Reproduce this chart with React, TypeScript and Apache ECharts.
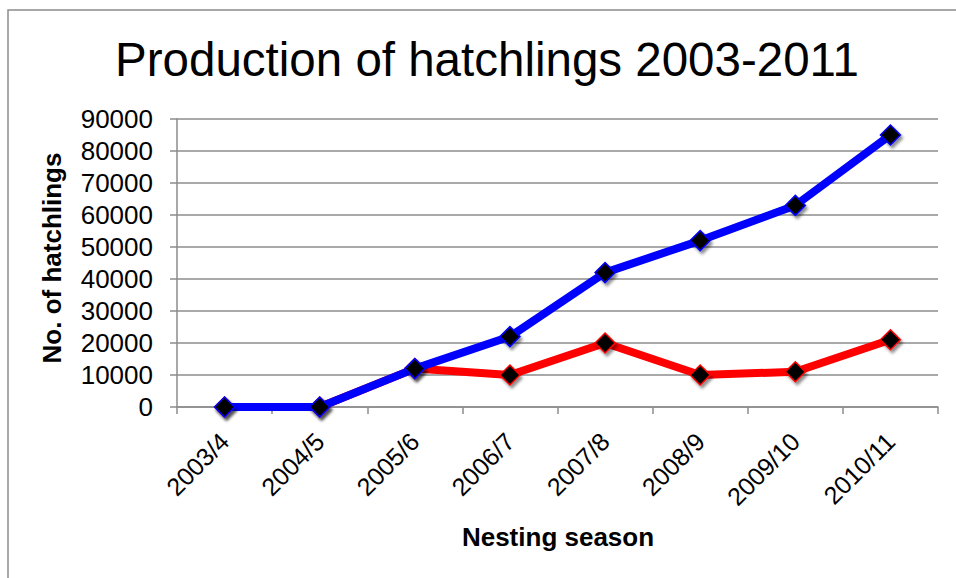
import React, { useEffect, useRef } from "react";
import * as echarts from "echarts";

const seasons = ["2003/4", "2004/5", "2005/6", "2006/7", "2007/8", "2008/9", "2009/10", "2010/11"];
const blueSeries = [0, 0, 12000, 22000, 42000, 52000, 63000, 85000];
const redSeries = [0, 0, 12000, 10000, 20000, 10000, 11000, 21000];
const yTicks = { min: 0, max: 90000, interval: 10000 };

const titleText = "Production of hatchlings 2003-2011";
const xName = "Nesting season";
const yName = "No. of hatchlings";

const FONT = "'Liberation Sans', Arial, Helvetica, sans-serif";
const GRAY = "#8c8c8c";

export default function App() {
  const ref = useRef<HTMLDivElement>(null);

  useEffect(() => {
    if (!ref.current) return;
    const chart = echarts.init(ref.current, undefined, { renderer: "svg" });
    const markerStyle = (border: string) => ({
      color: "#000000",
      borderColor: border,
      borderWidth: 1.5,
      shadowBlur: 3,
      shadowColor: "rgba(0,0,0,0.45)",
      shadowOffsetX: 2,
      shadowOffsetY: 3,
    });
    chart.setOption({
      animation: false,
      backgroundColor: "#ffffff",
      grid: { left: 177, right: 18, top: 119, bottom: 171, containLabel: false },
      graphic: [
        {
          type: "rect",
          shape: { x: 8, y: 10, width: 1200, height: 1000 },
          style: { fill: "none", stroke: GRAY, lineWidth: 1.5 },
          silent: true,
        },
        {
          type: "text",
          x: 487,
          y: 59,
          style: {
            text: titleText,
            fontSize: 47.5,
            fontFamily: FONT,
            fill: "#000",
            textAlign: "center",
            textVerticalAlign: "middle",
          },
        },
        {
          type: "text",
          x: 558,
          y: 537,
          style: {
            text: xName,
            fontSize: 26,
            fontWeight: "bold",
            fontFamily: FONT,
            fill: "#000",
            textAlign: "center",
            textVerticalAlign: "middle",
          },
        },
        {
          type: "text",
          x: 52,
          y: 258,
          rotation: Math.PI / 2,
          style: {
            text: yName,
            fontSize: 26,
            fontWeight: "bold",
            fontFamily: FONT,
            fill: "#000",
            textAlign: "center",
            textVerticalAlign: "middle",
          },
        },
      ],
      xAxis: {
        type: "category",
        data: seasons,
        boundaryGap: true,
        axisLine: { show: true, lineStyle: { color: GRAY, width: 1.5 } },
        axisTick: { show: true, length: 7, interval: 0, lineStyle: { color: GRAY, width: 1.5 } },
        axisLabel: {
          interval: 0,
          rotate: 45,
          margin: 30,
          fontSize: 25,
          fontFamily: FONT,
          color: "#000",
        },
        splitLine: { show: false },
      },
      yAxis: {
        type: "value",
        min: yTicks.min,
        max: yTicks.max,
        interval: yTicks.interval,
        axisLine: { show: true, lineStyle: { color: GRAY, width: 1.5 } },
        axisTick: { show: true, length: 7, lineStyle: { color: GRAY, width: 1.5 } },
        axisLabel: {
          margin: 24,
          fontSize: 26,
          fontFamily: FONT,
          color: "#000",
          formatter: (v: number) => String(v),
        },
        splitLine: { show: true, lineStyle: { color: GRAY, width: 1.5 } },
      },
      series: [
        {
          name: "red",
          type: "line",
          data: redSeries,
          symbol: "diamond",
          symbolSize: 20,
          lineStyle: { color: "#ff0000", width: 8 },
          itemStyle: markerStyle("#ff0000"),
          z: 2,
        },
        {
          name: "blue",
          type: "line",
          data: blueSeries,
          symbol: "diamond",
          symbolSize: 20,
          lineStyle: { color: "#0000ff", width: 8 },
          itemStyle: markerStyle("#0000ff"),
          z: 3,
        },
      ],
    });
    return () => chart.dispose();
  }, []);

  return (
    <div
      ref={ref}
      style={{ position: "fixed", left: 0, top: 0, width: 956, height: 578, background: "#fff" }}
    />
  );
}
